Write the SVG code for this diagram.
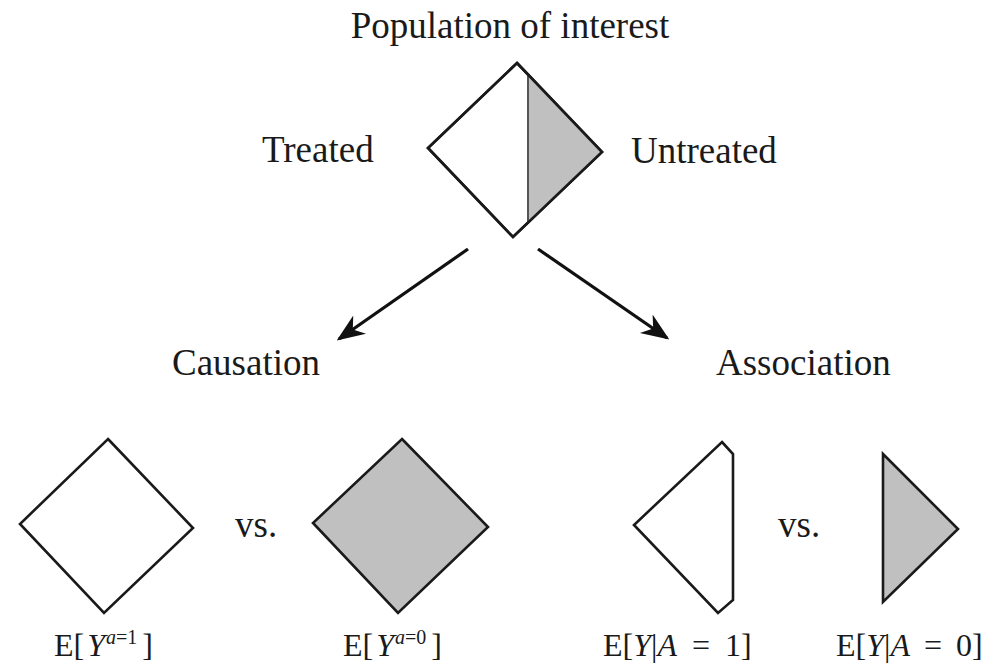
<svg xmlns="http://www.w3.org/2000/svg" width="1004" height="671" viewBox="0 0 1004 671">
<defs>
<style>
.t{font-family:"Liberation Serif","Times New Roman",serif;fill:#1a1a1a}
.lg{font-size:37px}
.md{font-size:32px}
.sup{font-size:20px}
.i{font-style:italic}
.sh{stroke:#1a1a1a;stroke-width:2.6;stroke-linejoin:miter}
.w{fill:#fff}
.g{fill:#c0c0c0}
.c{stroke:#111;stroke-width:3.2;fill:none}
</style>
<marker id="ah2" viewBox="0 0 10 10" refX="9" refY="5" markerWidth="28" markerHeight="28" markerUnits="userSpaceOnUse" orient="auto">
<path d="M0,1 L10,5 L0,9 L3,5 Z" fill="#111"/>
</marker>
</defs>
<rect width="1004" height="671" fill="#fff"/>

<g id="title"><text class="t lg" x="510" y="38" text-anchor="middle">Population of interest</text></g>

<g id="population">
<polygon class="sh w" points="517,63 602,152 513,237 428,148"/>
<polygon class="g" points="528,74.5 602,152 528,222.7"/>
<line x1="528" y1="74.5" x2="528" y2="222.7" stroke="#555" stroke-width="2"/>
<polygon points="517,63 602,152 513,237 428,148" fill="none" stroke="#1a1a1a" stroke-width="2.6"/>
</g>
<g id="treated-label"><text class="t lg" x="262" y="162">Treated</text></g>
<g id="untreated-label"><text class="t lg" x="631" y="163">Untreated</text></g>

<g id="connectors">
<line class="c" x1="468" y1="249" x2="339" y2="339" marker-end="url(#ah2)"/>
<line class="c" x1="538" y1="249" x2="667" y2="338" marker-end="url(#ah2)"/>
</g>

<g id="causation"><text class="t lg" x="172" y="375">Causation</text></g>
<g id="association"><text class="t lg" x="716" y="375">Association</text></g>

<g id="causal-treated">
<polygon class="sh w" points="108,439 193,528 104,613 20,524"/>
<text class="t md" x="54" y="656">E[<tspan class="i" dx="3">Y</tspan><tspan class="sup" dy="-12" dx="1"><tspan class="i">a</tspan>=1</tspan><tspan dy="12" dx="5">]</tspan></text>
</g>
<g id="vs1"><text class="t lg" x="235" y="537">vs.</text></g>
<g id="causal-untreated">
<polygon class="sh g" points="402,439 488,527 398,613 313,523"/>
<text class="t md" x="343" y="656">E[<tspan class="i" dx="3">Y</tspan><tspan class="sup" dy="-12" dx="1"><tspan class="i">a</tspan>=0</tspan><tspan dy="12" dx="5">]</tspan></text>
</g>

<g id="assoc-treated">
<polygon class="sh w" points="722,442 733,454 733,600 718,613 634,525"/>
<text class="t md" x="603" y="656">E[<tspan class="i">Y</tspan>|<tspan class="i">A</tspan><tspan dx="15">=</tspan><tspan dx="15">1]</tspan></text>
</g>
<g id="vs2"><text class="t lg" x="778" y="537">vs.</text></g>
<g id="assoc-untreated">
<polygon class="sh g" points="883,454 958,529 883,602"/>
<text class="t md" x="836" y="656">E[<tspan class="i">Y</tspan>|<tspan class="i">A</tspan><tspan dx="14">=</tspan><tspan dx="14">0]</tspan></text>
</g>
</svg>
